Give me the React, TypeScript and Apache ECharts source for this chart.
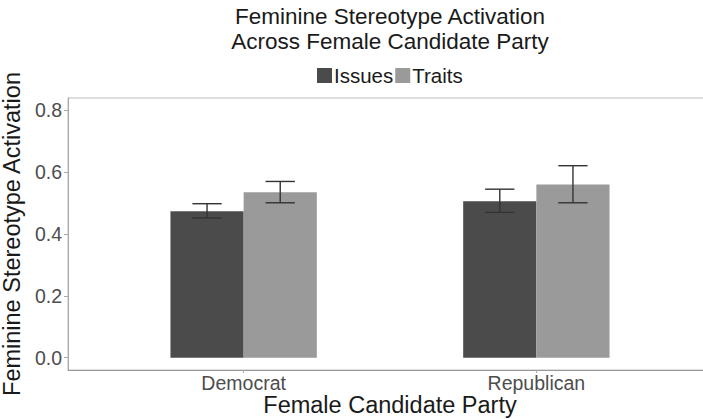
import React, { useEffect, useRef } from "react";
import * as echarts from "echarts";

const categories = ["Democrat", "Republican"];
const seriesNames = ["Issues", "Traits"];
const issuesMean = [0.474, 0.506];
const issuesLow = [0.452, 0.47];
const issuesHigh = [0.498, 0.545];
const traitsMean = [0.535, 0.56];
const traitsLow = [0.501, 0.501];
const traitsHigh = [0.57, 0.621];
const yTicks = [0, 0.2, 0.4, 0.6, 0.8];
const xTitle = "Female Candidate Party";

const FONT = "'Liberation Sans', Arial, Helvetica, sans-serif";
const COLORS = ["#4b4b4b", "#9a9a9a"];
const BAR_W = 0.25;
const CAP_W = 0.1;

function buildData(mean: number[], lo: number[], hi: number[]) {
  return categories.map((_, i) => [i + 1, mean[i], lo[i], hi[i]]);
}

function makeRender(offset: number, color: string) {
  return (params: any, api: any) => {
    const x = api.value(0) + offset;
    const y = api.value(1);
    const lo = api.value(2);
    const hi = api.value(3);
    const p0 = api.coord([x - BAR_W / 2, 0]);
    const p1 = api.coord([x + BAR_W / 2, y]);
    const c = api.coord([x, lo]);
    const cTop = api.coord([x, hi]);
    const capL = api.coord([x - CAP_W / 2, 0])[0];
    const capR = api.coord([x + CAP_W / 2, 0])[0];
    const lineStyle = { stroke: "#333333", lineWidth: 1.4 };
    return {
      type: "group",
      children: [
        {
          type: "rect",
          shape: { x: p0[0], y: p1[1], width: p1[0] - p0[0], height: p0[1] - p1[1] },
          style: { fill: color },
        },
        { type: "line", shape: { x1: c[0], y1: c[1], x2: cTop[0], y2: cTop[1] }, style: lineStyle },
        { type: "line", shape: { x1: capL, y1: cTop[1], x2: capR, y2: cTop[1] }, style: lineStyle },
        { type: "line", shape: { x1: capL, y1: c[1], x2: capR, y2: c[1] }, style: lineStyle },
      ],
    };
  };
}

export default function App() {
  const ref = useRef<HTMLDivElement>(null);
  useEffect(() => {
    if (!ref.current) return;
    const chart = echarts.init(ref.current, null, { renderer: "svg" });
    chart.setOption({
      animation: false,
      title: {
        text: "Feminine Stereotype Activation\nAcross Female Candidate Party",
        left: 390,
        top: 4,
        textAlign: "center",
        padding: 0,
        textStyle: { fontFamily: FONT, fontSize: 22.5, fontWeight: "normal", color: "#1a1a1a", lineHeight: 25 },
      },
      legend: {
        data: seriesNames,
        top: 65,
        left: 317,
        padding: 0,
        itemWidth: 15,
        itemHeight: 15,
        itemGap: 2,
        icon: "rect",
        textStyle: { fontFamily: FONT, fontSize: 20.5, color: "#1a1a1a", padding: [0, 0, 0, -3] },
      },
      graphic: [
        {
          type: "text",
          x: 390,
          y: 405,
          style: {
            text: xTitle,
            fontFamily: FONT,
            fontSize: 23.5,
            fill: "#1a1a1a",
            align: "center",
            verticalAlign: "middle",
          },
        },
      ],
      grid: {
        left: 68,
        right: -9,
        top: 98,
        bottom: 49,
        outerBoundsMode: "none",
        containLabel: false,
        show: true,
        borderColor: "#bdbdbd",
        borderWidth: 1,
        backgroundColor: "transparent",
      },
      xAxis: {
        type: "value",
        min: 0.4,
        max: 2.6,
        splitLine: { show: false },
        axisLine: { show: true, onZero: false, lineStyle: { color: "#9a9a9a", width: 1 } },
        axisTick: { show: true, length: 3, customValues: [1, 2], lineStyle: { color: "#aaaaaa" } },
        axisLabel: {
          customValues: [1, 2],
          margin: 3,
          fontFamily: FONT,
          fontSize: 19.5,
          color: "#4d4d4d",
          formatter: (v: number) => categories[Math.round(v) - 1] ?? "",
        },
      },
      yAxis: {
        type: "value",
        min: -0.04,
        max: 0.84,
        name: "Feminine Stereotype Activation",
        nameLocation: "middle",
        nameGap: 38,
        nameRotate: 90,
        nameTextStyle: { fontFamily: FONT, fontSize: 23.5, color: "#1a1a1a" },
        splitLine: { show: false },
        axisLine: { show: true, onZero: false, lineStyle: { color: "#aaaaaa", width: 1 } },
        axisTick: { show: true, length: 4, customValues: yTicks, lineStyle: { color: "#aaaaaa" } },
        axisLabel: {
          customValues: yTicks,
          margin: 6,
          fontFamily: FONT,
          fontSize: 19.5,
          color: "#4d4d4d",
          formatter: (v: number) => v.toFixed(1),
        },
      },
      series: [
        {
          name: seriesNames[0],
          type: "custom",
          itemStyle: { color: COLORS[0] },
          renderItem: makeRender(-BAR_W / 2, COLORS[0]),
          encode: { x: 0, y: [1, 2, 3] },
          data: buildData(issuesMean, issuesLow, issuesHigh),
        },
        {
          name: seriesNames[1],
          type: "custom",
          itemStyle: { color: COLORS[1] },
          renderItem: makeRender(BAR_W / 2, COLORS[1]),
          encode: { x: 0, y: [1, 2, 3] },
          data: buildData(traitsMean, traitsLow, traitsHigh),
        },
      ],
    });
    return () => chart.dispose();
  }, []);
  return <div ref={ref} style={{ width: 703, height: 419, position: "absolute", left: 0, top: 0 }} />;
}
